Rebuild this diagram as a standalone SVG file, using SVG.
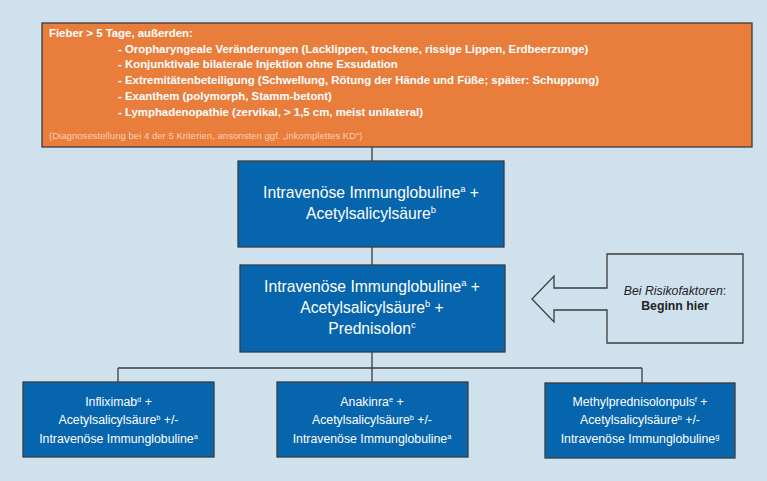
<svg xmlns="http://www.w3.org/2000/svg" width="767" height="481" viewBox="0 0 767 481">
<style>
.t{font-family:"Liberation Sans",Arial,sans-serif;fill:#fff}
.hd{font-size:11.4px;font-weight:bold}
.ft{font-size:9.6px;fill:#f9cfb2}
.bx{fill:#0765ae;stroke:#3c3c3c;stroke-width:1.3}
.mid{font-size:15.7px;text-anchor:middle}
.sm{font-size:12.3px;text-anchor:middle}
.sup{font-size:0.6em}
.ln{fill:none;stroke:#3c3c3c;stroke-width:1.3}
.call{font-family:"Liberation Sans",Arial,sans-serif;font-size:12.3px;fill:#222;text-anchor:middle}
</style>
<rect width="767" height="481" fill="#cfe1ed"/>
<g id="connectors">
<path class="ln" d="M372 147V161M372 247V265M372 352V368M118 368H642M118 368V382M372 368V382M642 368V383"/>
</g>
<g id="criteria">
<rect x="42" y="23" width="710" height="124" fill="#e97d3c" stroke="#3c3c3c" stroke-width="1.3"/>
<text class="t hd" x="49" y="37">Fieber &gt; 5 Tage, außerden:</text>
<text class="t hd" x="118" y="52.5">- Oropharyngeale Veränderungen (Lacklippen, trockene, rissige Lippen, Erdbeerzunge)</text>
<text class="t hd" x="118" y="68">- Konjunktivale bilaterale Injektion ohne Exsudation</text>
<text class="t hd" x="118" y="84">- Extremitätenbeteiligung (Schwellung, Rötung der Hände und Füße; später: Schuppung)</text>
<text class="t hd" x="118" y="100">- Exanthem (polymorph, Stamm-betont)</text>
<text class="t hd" x="118" y="116">- Lymphadenopathie (zervikal, &gt; 1,5 cm, meist unilateral)</text>
<text class="t ft" x="49" y="139">(Diagnosestellung bei 4 der 5 Kriterien, ansonsten ggf. „inkomplettes KD“)</text>
</g>
<g id="step1">
<rect class="bx" x="238" y="161" width="266" height="86"/>
<text class="t mid" x="371" y="198">Intravenöse Immunglobuline<tspan class="sup" dy="-6">a</tspan><tspan dy="6"> +</tspan></text>
<text class="t mid" x="371" y="219">Acetylsalicylsäure<tspan class="sup" dy="-6">b</tspan></text>
</g>
<g id="step2">
<rect class="bx" x="240" y="265" width="265" height="87"/>
<text class="t mid" x="372" y="292">Intravenöse Immunglobuline<tspan class="sup" dy="-6">a</tspan><tspan dy="6"> +</tspan></text>
<text class="t mid" x="372" y="313">Acetylsalicylsäure<tspan class="sup" dy="-6">b</tspan><tspan dy="6"> +</tspan></text>
<text class="t mid" x="372" y="334">Prednisolon<tspan class="sup" dy="-6">c</tspan></text>
</g>
<g id="callout">
<path class="ln" d="M607 254H743V343H607V310H554V322L532 299L554 276V288H607Z"/>
<text class="call" x="675" y="295"><tspan font-style="italic">Bei Risikofaktoren</tspan>:</text>
<text class="call" x="675" y="310" font-weight="bold">Beginn hier</text>
</g>
<g id="optA">
<rect class="bx" x="23" y="382" width="191" height="75"/>
<text class="t sm" x="118.5" y="406">Infliximab<tspan class="sup" dy="-4.5">d</tspan><tspan dy="4.5"> +</tspan></text>
<text class="t sm" x="118.5" y="424">Acetylsalicylsäure<tspan class="sup" dy="-4.5">b</tspan><tspan dy="4.5"> +/-</tspan></text>
<text class="t sm" x="118.5" y="443">Intravenöse Immunglobuline<tspan class="sup" dy="-4.5">a</tspan></text>
</g>
<g id="optB">
<rect class="bx" x="277" y="382" width="191" height="75"/>
<text class="t sm" x="372" y="406">Anakinra<tspan class="sup" dy="-4.5">e</tspan><tspan dy="4.5"> +</tspan></text>
<text class="t sm" x="372" y="424">Acetylsalicylsäure<tspan class="sup" dy="-4.5">b</tspan><tspan dy="4.5"> +/-</tspan></text>
<text class="t sm" x="372" y="443">Intravenöse Immunglobuline<tspan class="sup" dy="-4.5">a</tspan></text>
</g>
<g id="optC">
<rect class="bx" x="545" y="383" width="190" height="75"/>
<text class="t sm" x="640" y="406">Methylprednisolonpuls<tspan class="sup" dy="-4.5">f</tspan><tspan dy="4.5"> +</tspan></text>
<text class="t sm" x="640" y="424">Acetylsalicylsäure<tspan class="sup" dy="-4.5">b</tspan><tspan dy="4.5"> +/-</tspan></text>
<text class="t sm" x="640" y="443">Intravenöse Immunglobuline<tspan class="sup" dy="-4.5">g</tspan></text>
</g>
</svg>
